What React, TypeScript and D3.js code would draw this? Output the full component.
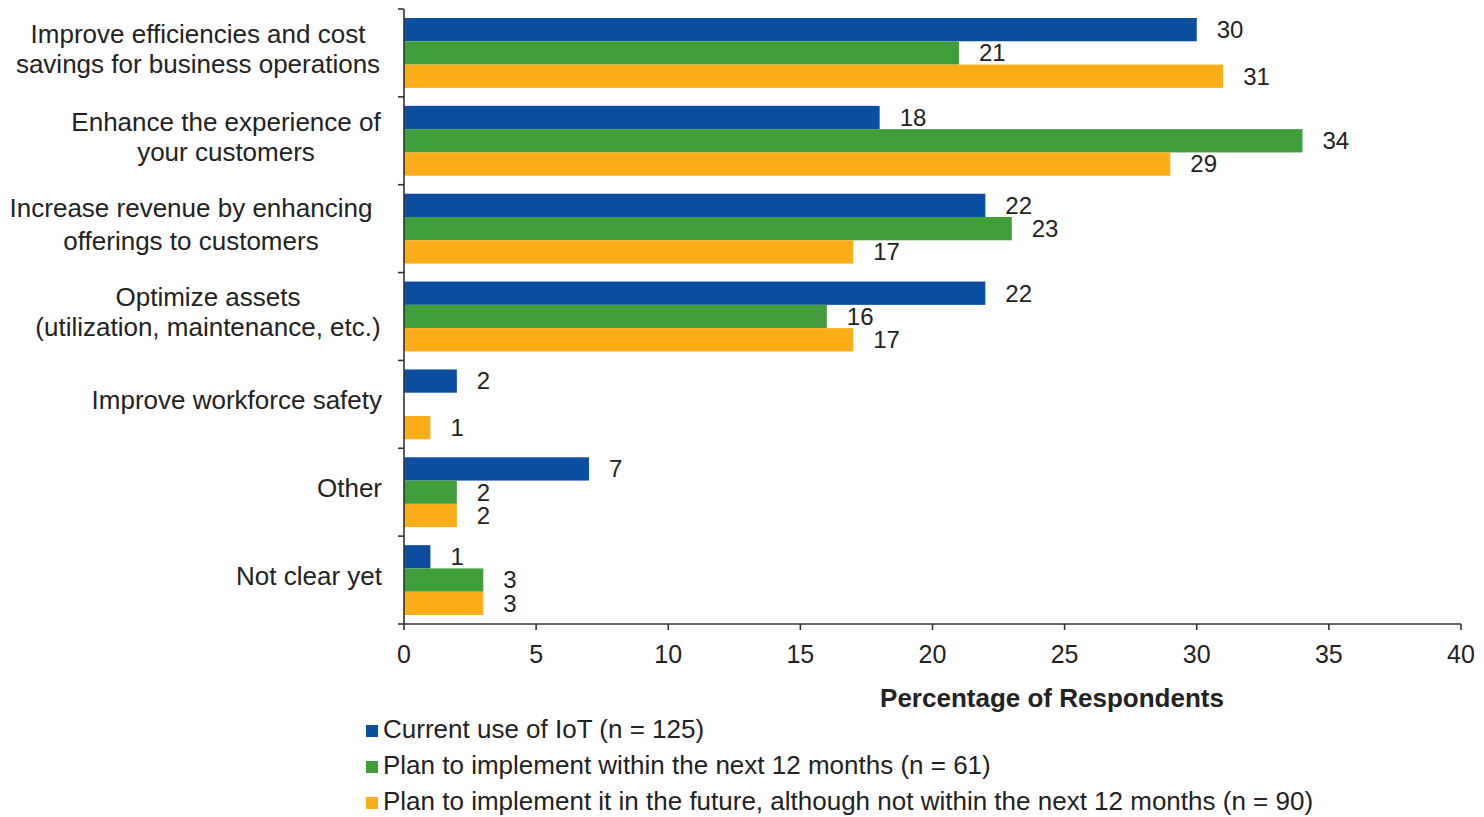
import React from "react";
import * as d3 from "d3";

const categories: string[][] = [
  ["Improve efficiencies and cost", "savings for business operations"],
  ["Enhance the experience of", "your customers"],
  ["Increase revenue by enhancing", "offerings to customers"],
  ["Optimize assets", "(utilization, maintenance, etc.)"],
  ["Improve workforce safety"],
  ["Other"],
  ["Not clear yet"],
];

const seriesNames = [
  "Current use of IoT  (n = 125)",
  "Plan to implement within the next 12 months (n = 61)",
  "Plan to implement it in the future, although not within the next 12 months (n = 90)",
];
const seriesColors = ["#0b4ea2", "#3f9e3a", "#fbae17"];

const currentUse: (number | null)[] = [30, 18, 22, 22, 2, 7, 1];
const plan12: (number | null)[] = [21, 34, 23, 16, null, 2, 3];
const planFuture: (number | null)[] = [31, 29, 17, 17, 1, 2, 3];

const xTicks = [0, 5, 10, 15, 20, 25, 30, 35, 40];
const xTitle = "Percentage of Respondents";

const W = 1484;
const H = 817;
const left = 404;
const right = 1461;
const top = 9;
const bottom = 624;
const font = "'Liberation Sans', Arial, sans-serif";
const labelCenters = [198, 226, 191, 208];

export default function App() {
  const series = [currentUse, plan12, planFuture];
  const x = d3.scaleLinear().domain([0, 40]).range([left, right]);
  const y = d3
    .scaleBand<number>()
    .domain(d3.range(categories.length))
    .range([top, bottom])
    .paddingInner(0)
    .paddingOuter(0);
  const bw = y.bandwidth();
  const inner = d3
    .scaleBand<number>()
    .domain([0, 1, 2])
    .range([9, bw - 9])
    .padding(0);
  const ibw = inner.bandwidth();
  const tickYs = d3.range(categories.length + 1).map((i) => top + i * bw);

  return (
    <svg
      width={W}
      height={H}
      style={{ position: "absolute", left: 0, top: 0, background: "#fff" }}
      fontFamily={font}
    >
      {/* bars */}
      {categories.map((_, ci) =>
        series.map((s, si) => {
          const v = s[ci];
          if (v === null || v === undefined) return null;
          const yy = (y(ci) as number) + (inner(si) as number);
          return (
            <g key={`b${ci}-${si}`}>
              <rect
                x={x(0)}
                y={yy}
                width={x(v) - x(0)}
                height={ibw}
                fill={seriesColors[si]}
              />
              <text
                x={x(v) + 20}
                y={yy + ibw / 2 + 2}
                dominantBaseline="middle"
                fontSize={24}
                fill="#222"
              >
                {v}
              </text>
            </g>
          );
        })
      )}
      {/* y axis */}
      <line x1={left} x2={left} y1={top} y2={bottom} stroke="#333" strokeWidth={1.6} />
      {tickYs.map((t, i) => (
        <line key={`yt${i}`} x1={left - 6} x2={left} y1={t} y2={t} stroke="#333" strokeWidth={1.6} />
      ))}
      {/* category labels */}
      {categories.map((lines, ci) => {
        const cy = (y(ci) as number) + bw / 2;
        const lh = ci === 2 ? 33 : 30;
        return (
          <text
            key={`c${ci}`}
            fontSize={26}
            fill="#222"
            textAnchor={lines.length > 1 ? "middle" : "end"}
          >
            {lines.map((ln, li) => (
              <tspan
                key={li}
                x={lines.length > 1 ? labelCenters[ci] : 382}
                y={cy + (li - (lines.length - 1) / 2) * lh - 2}
                dominantBaseline="middle"
              >
                {ln}
              </tspan>
            ))}
          </text>
        );
      })}
      {/* x axis */}
      <line x1={left} x2={right} y1={bottom} y2={bottom} stroke="#333" strokeWidth={1.6} />
      {xTicks.map((t) => (
        <g key={`xt${t}`}>
          <line x1={x(t)} x2={x(t)} y1={bottom} y2={bottom + 6} stroke="#333" strokeWidth={1.6} />
          <text x={x(t)} y={656} textAnchor="middle" dominantBaseline="middle" fontSize={25} fill="#222">
            {t}
          </text>
        </g>
      ))}
      <text x={1052} y={700} textAnchor="middle" dominantBaseline="middle" fontSize={26} fontWeight="bold" fill="#222">
        {xTitle}
      </text>
      {/* legend */}
      {seriesNames.map((n, i) => (
        <g key={`l${i}`}>
          <rect x={366} y={725 + i * 36} width={12} height={12} fill={seriesColors[i]} />
          <text x={383} y={731 + i * 36} dominantBaseline="middle" fontSize={26} fill="#222">
            {n}
          </text>
        </g>
      ))}
    </svg>
  );
}
